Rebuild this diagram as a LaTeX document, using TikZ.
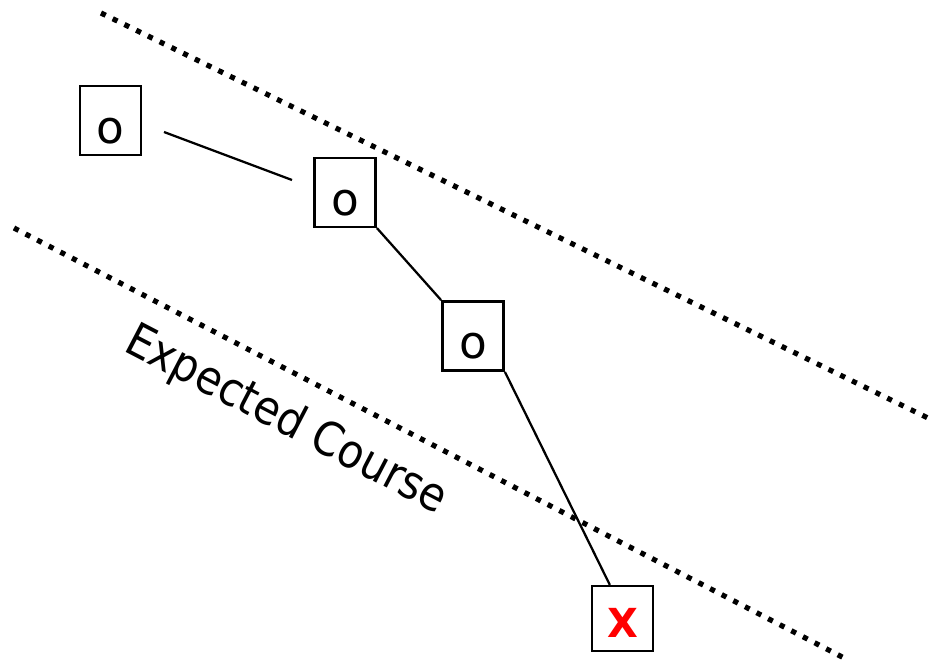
\documentclass[tikz,border=0pt]{standalone}
\usepackage{fontspec}
\setmainfont{DejaVu Sans}
\newfontfamily\condfont{DejaVu Sans Condensed}
\usetikzlibrary{calc}
\tikzset{
  box/.style={draw, line width=1.9pt, rectangle, inner sep=0pt, font=\fontsize{34pt}{36pt}\selectfont, text height=35pt, text depth=1.25pt},
  xbox/.style={draw, line width=1.9pt, rectangle, inner sep=0pt, text=red, font=\fontsize{30pt}{32pt}\selectfont\bfseries, text height=29pt, text depth=1.25pt},
  conn/.style={line width=1.7pt},
  course/.style={line width=3.9pt, dash pattern=on 3.9pt off 5.9pt},
  label/.style={font=\condfont\fontsize{35pt}{37pt}\selectfont}
}
\begin{document}
\begin{tikzpicture}[x=0.75pt,y=-0.75pt]
\useasboundingbox (0,0) rectangle (932,664);
% course boundaries
\coordinate (t1) at (101,13);
\coordinate (t2) at (932,420);
\coordinate (u1) at (14,228);
\coordinate (u2) at (846,659);
\draw[course] (t1) -- (t2);
\draw[course] (u1) -- (u2);
% boxes
\node[box, minimum width=45.5pt, minimum height=51.5pt] (b1) at (110.5,120.5) {o};
\node[box, minimum width=46pt, minimum height=51.5pt] (b2) at (345,192.5) {o};
\node[box, minimum width=46pt, minimum height=52pt] (b3) at (473,336) {o};
\node[xbox, minimum width=45.5pt, minimum height=48.5pt] (bx) at (622.5,618.5) {X};
% connectors
\coordinate (c1) at (164,132);
\coordinate (c2) at (292,180);
\draw[conn] (c1) -- (c2);
\draw[conn] (b2.south east) -- (b3.north west);
\coordinate (xin) at ([xshift=-9.5pt]bx.north);
\draw[conn] (b3.south east) -- (xin);
% label
\node[label, rotate=-27.5] (lbl) at (286,421) {Expected Course};
\end{tikzpicture}
\end{document}
